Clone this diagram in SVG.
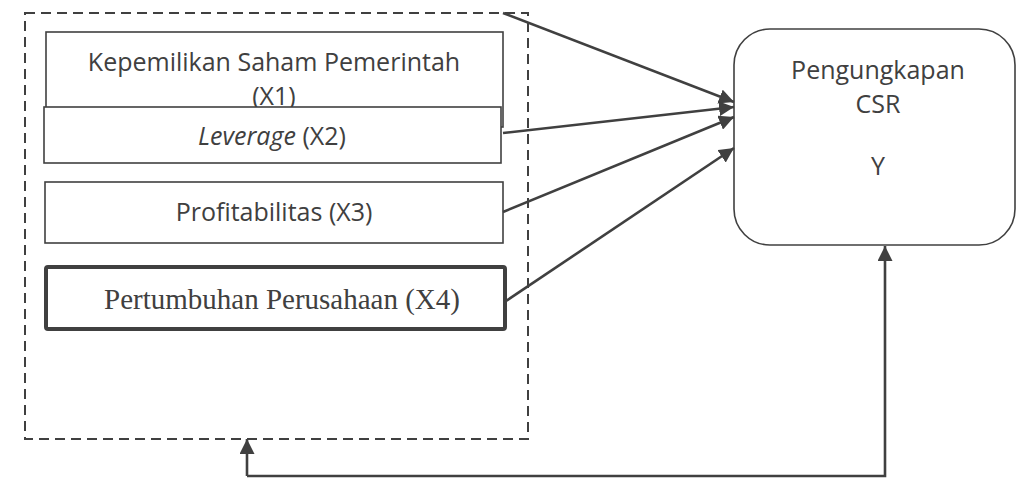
<svg xmlns="http://www.w3.org/2000/svg" width="1017" height="478" viewBox="0 0 1017 478">
<defs>
<marker id="ah" viewBox="0 0 15 15" refX="15" refY="7.5" markerWidth="15" markerHeight="15" markerUnits="userSpaceOnUse" orient="auto">
<path d="M0,0 L15,7.5 L0,15 Z" fill="#404040"/>
</marker>
</defs>
<style>
.box{fill:#fff;stroke:#404040;stroke-width:1.6}
.thick{fill:#fff;stroke:#404040;stroke-width:4}
.t{font-family:"Open Sans","Liberation Sans",sans-serif;font-size:25px;fill:#404040;text-anchor:middle}
.s{font-family:"Liberation Serif",serif;font-size:29px;fill:#404040;text-anchor:middle}
.c{fill:none;stroke:#404040;stroke-width:2.6}
.dash{fill:none;stroke:#404040;stroke-width:2;stroke-dasharray:10,6}
</style>
<g id="group-frame">
<rect class="dash" x="25" y="13" width="503" height="426"/>
</g>
<g id="x1">
<rect class="box" x="46" y="32" width="457" height="95"/>
<text class="t" x="274" y="71">Kepemilikan Saham Pemerintah</text>
<text class="t" x="274" y="105">(X1)</text>
</g>
<g id="x2">
<rect class="box" x="44" y="107" width="457" height="56"/>
<text class="t" x="272" y="145"><tspan font-style="italic">Leverage</tspan> (X2)</text>
</g>
<g id="x3">
<rect class="box" x="45" y="182" width="458" height="61"/>
<text class="t" x="274" y="221">Profitabilitas (X3)</text>
</g>
<g id="x4">
<rect class="thick" x="46" y="267" width="459" height="62" rx="2"/>
<text class="s" x="282" y="309">Pertumbuhan Perusahaan (X4)</text>
</g>
<g id="y">
<rect class="box" x="734" y="29" width="281" height="216" rx="36"/>
<text class="t" x="878" y="79">Pengungkapan</text>
<text class="t" x="878" y="113">CSR</text>
<text class="t" x="878" y="175">Y</text>
</g>
<g id="connectors">
<line class="c" x1="503" y1="13" x2="734" y2="102" marker-end="url(#ah)"/>
<line class="c" x1="503" y1="133" x2="734" y2="107" marker-end="url(#ah)"/>
<line class="c" x1="503" y1="212" x2="734" y2="117" marker-end="url(#ah)"/>
<line class="c" x1="506" y1="301" x2="734" y2="148" marker-end="url(#ah)"/>
<polyline class="c" points="247,476 885,476 885,246" marker-end="url(#ah)"/>
<line class="c" x1="247" y1="476" x2="247" y2="439" marker-end="url(#ah)"/>
</g>
</svg>
